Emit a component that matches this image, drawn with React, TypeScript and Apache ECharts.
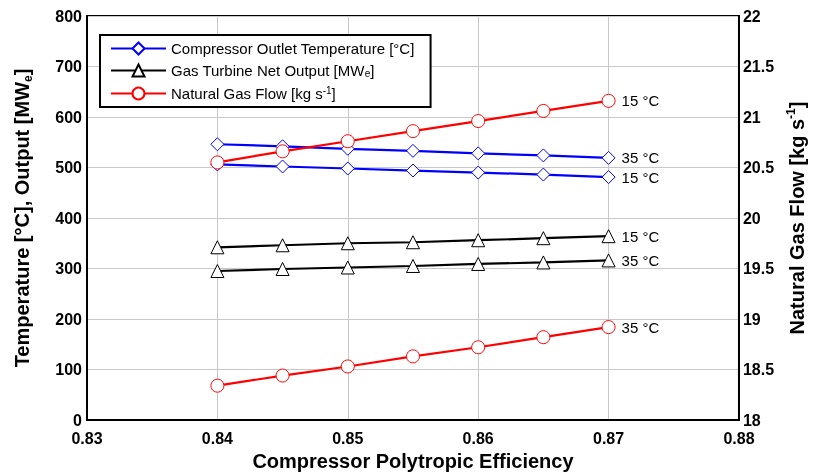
import React, { useEffect, useRef } from "react";
import * as echarts from "echarts";

const efficiency = [0.84, 0.845, 0.85, 0.855, 0.86, 0.865, 0.87];
const outletTemp15 = [506, 502, 498, 494, 490, 486, 481];
const outletTemp35 = [546, 542, 537, 533, 528, 524, 519];
const netOutput15 = [342, 346, 350, 352, 356, 360, 364];
const netOutput35 = [295, 299, 302, 305, 309, 312, 316];
const gasFlow15 = [20.55, 20.66, 20.76, 20.86, 20.96, 21.06, 21.16];
const gasFlow35 = [18.34, 18.44, 18.53, 18.63, 18.72, 18.82, 18.92];

const NAME_T = "Compressor Outlet Temperature [°C]";
const NAME_P = "Gas Turbine Net Output [MWe]";
const NAME_F = "Natural Gas Flow [kg s-1]";

const FONT = "'Liberation Sans', Arial, sans-serif";

const zip = (ys: number[]) => efficiency.map((x, i) => [x, ys[i]]);

export default function App() {
  const ref = useRef<HTMLDivElement>(null);
  useEffect(() => {
    if (!ref.current) return;
    document.body.style.margin = "0";
    const chart = echarts.init(ref.current, undefined, { renderer: "svg" });
    const mk = (
      name: string,
      data: number[],
      color: string,
      symbol: string,
      label: string,
      yAxisIndex = 0
    ) => ({
      type: "line",
      name,
      yAxisIndex,
      data: zip(data),
      symbol,
      symbolSize: 13,
      showAllSymbol: true,
      lineStyle: { color, width: 2.2 },
      itemStyle: { color: "#ffffff", borderColor: color, borderWidth: 1 },
      endLabel: {
        show: true,
        formatter: label,
        color: "#000",
        fontSize: 15,
        fontFamily: FONT,
        distance: 13,
      },
      emphasis: { disabled: true },
    });
    const subRich = {
      sub: { fontSize: 12, verticalAlign: "bottom", lineHeight: 13, fontFamily: FONT, fontWeight: "bold" },
      sup: { fontSize: 12, verticalAlign: "top", lineHeight: 13, fontFamily: FONT, fontWeight: "bold" },
    };
    chart.setOption({
      animation: false,
      textStyle: { fontFamily: FONT },
      grid: {
        left: 87,
        right: 72,
        top: 16,
        bottom: 56,
        show: true,
        borderColor: "#000",
        borderWidth: 2,
      },
      legend: {
        left: 100,
        top: 35,
        orient: "vertical",
        itemWidth: 55,
        itemHeight: 15,
        itemGap: 7,
        padding: [6, 16, 6, 10],
        borderColor: "#000",
        borderWidth: 2,
        backgroundColor: "#fff",
        data: [NAME_T, NAME_P, NAME_F],
        formatter: (n: string) => {
          if (n === NAME_P) return "{n|Gas Turbine Net Output [MW}{s|e}{n|]}";
          if (n === NAME_F) return "{n|Natural Gas Flow [kg s}{p|-1}{n|]}";
          return "{n|" + n + "}";
        },
        textStyle: {
          fontSize: 15,
          color: "#000",
          fontFamily: FONT,
          rich: {
            n: { fontSize: 15, lineHeight: 16, fontFamily: FONT, color: "#000" },
            s: { fontSize: 10, lineHeight: 10, verticalAlign: "bottom", fontFamily: FONT, color: "#000" },
            p: { fontSize: 10, lineHeight: 10, verticalAlign: "top", fontFamily: FONT, color: "#000" },
          },
        },
      },
      xAxis: {
        type: "value",
        min: 0.83,
        max: 0.88,
        interval: 0.01,
        name: "Compressor Polytropic Efficiency",
        nameLocation: "middle",
        nameGap: 29,
        nameTextStyle: { fontSize: 20, fontWeight: "bold", color: "#000", fontFamily: FONT },
        axisLine: { lineStyle: { color: "#000", width: 2 } },
        axisTick: { show: false },
        axisLabel: {
          margin: 10,
          fontSize: 16,
          fontWeight: "bold",
          color: "#000",
          fontFamily: FONT,
          formatter: (v: number) => v.toFixed(2),
        },
        splitLine: { show: true, lineStyle: { color: "#c8c8c8", width: 1 } },
      },
      yAxis: [
        {
          type: "value",
          min: 0,
          max: 800,
          interval: 100,
          name: "{n|Temperature [°C], Output [MW}{sub|e}{n|]}",
          nameLocation: "middle",
          nameRotate: 90,
          nameGap: 53,
          nameTextStyle: {
            fontSize: 20,
            fontWeight: "bold",
            color: "#000",
            fontFamily: FONT,
            rich: { n: { fontSize: 20, lineHeight: 24, fontWeight: "bold", fontFamily: FONT }, ...subRich },
          },
          axisLine: { show: true, lineStyle: { color: "#000", width: 2 } },
          axisTick: { show: false },
          axisLabel: { margin: 5, fontSize: 16, fontWeight: "bold", color: "#000", fontFamily: FONT },
          splitLine: { show: true, lineStyle: { color: "#c8c8c8", width: 1 } },
        },
        {
          type: "value",
          min: 18,
          max: 22,
          interval: 0.5,
          position: "right",
          name: "{n|Natural Gas Flow [kg s}{sup|-1}{n|]}",
          nameLocation: "middle",
          nameRotate: 90,
          nameGap: 43,
          nameTextStyle: {
            fontSize: 20,
            fontWeight: "bold",
            color: "#000",
            fontFamily: FONT,
            rich: { n: { fontSize: 20, lineHeight: 24, fontWeight: "bold", fontFamily: FONT }, ...subRich },
          },
          axisLine: { show: true, lineStyle: { color: "#000", width: 2 } },
          axisTick: { show: false },
          axisLabel: { margin: 4, fontSize: 16, fontWeight: "bold", color: "#000", fontFamily: FONT },
          splitLine: { show: false },
        },
      ],
      series: [
        mk(NAME_T, outletTemp15, "#0000ff", "diamond", "15 °C"),
        mk(NAME_T, outletTemp35, "#0000ff", "diamond", "35 °C"),
        mk(NAME_P, netOutput15, "#000000", "triangle", "15 °C"),
        mk(NAME_P, netOutput35, "#000000", "triangle", "35 °C"),
        mk(NAME_F, gasFlow15, "#ff0000", "circle", "15 °C", 1),
        mk(NAME_F, gasFlow35, "#ff0000", "circle", "35 °C", 1),
      ],
    });
    return () => chart.dispose();
  }, []);
  return (
    <div
      ref={ref}
      style={{ position: "fixed", left: 0, top: 0, width: 815, height: 476 }}
    />
  );
}
